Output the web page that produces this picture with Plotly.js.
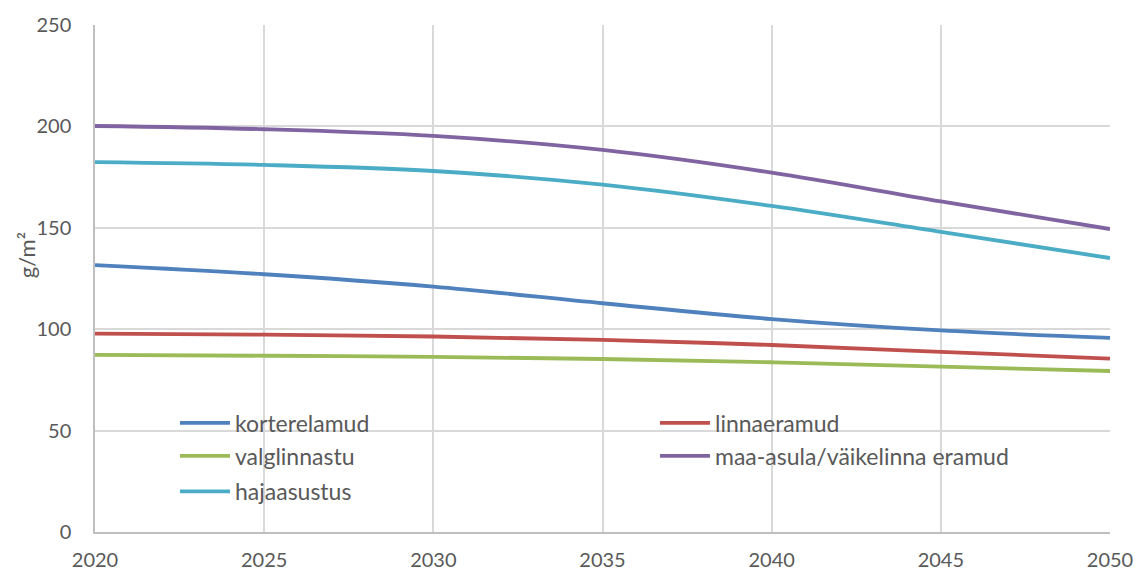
<!DOCTYPE html>
<html>
<head>
<meta charset="utf-8">
<script src="https://cdn.plot.ly/plotly-3.0.1.min.js"></script>
<style>html,body{margin:0;padding:0;background:#fff;}#chart{width:1138px;height:574px;}</style>
</head>
<body>
<div id="chart"></div>
<script>
var years = [2020, 2025, 2030, 2035, 2040, 2045, 2050];
var seriesNames = ["korterelamud", "linnaeramud", "valglinnastu", "maa-asula/väikelinna eramud", "hajaasustus"];
var korterelamud = [131.6, 127.1, 121.0, 112.8, 105.0, 99.4, 95.7];
var linnaeramud = [97.8, 97.3, 96.4, 94.7, 92.2, 88.8, 85.5];
var valglinnastu = [87.3, 86.9, 86.4, 85.3, 83.7, 81.5, 79.4];
var maaAsula = [200.2, 198.6, 195.3, 188.4, 177.2, 163.0, 149.4];
var hajaasustus = [182.4, 181.0, 178.0, 171.3, 160.8, 148.0, 135.1];
var xTicks = [2020, 2025, 2030, 2035, 2040, 2045, 2050];
var yTicks = [0, 50, 100, 150, 200, 250];
var yTitle = "g/m²";

var colors = ["#4F81BD", "#C0504D", "#9BBB59", "#8064A2", "#4BACC6"];
var values = [korterelamud, linnaeramud, valglinnastu, maaAsula, hajaasustus];
var legendIds = ["legend", "legend2", "legend3", "legend4", "legend5"];
var FONT = "Lato, 'Open Sans', sans-serif";

var traces = values.map(function (v, i) {
  return {
    type: "scatter", mode: "lines", x: years, y: v, name: seriesNames[i],
    line: {color: colors[i], width: 3.8, shape: "spline", smoothing: 1},
    legend: legendIds[i], hoverinfo: "x+y+name"
  };
});

var colX = [0.0788, 0.5517];
var rowY = [0.215, 0.150, 0.080];
function mkLegend(col, row) {
  return {
    orientation: "v", x: colX[col], xanchor: "left", y: rowY[row], yanchor: "middle",
    bgcolor: "rgba(0,0,0,0)", borderwidth: 0,
    itemwidth: 50,
    font: {family: FONT, size: 23, color: "#595959"}
  };
}

var layout = {
  width: 1138, height: 574,
  margin: {l: 95, r: 28, t: 25, b: 42},
  paper_bgcolor: "#ffffff", plot_bgcolor: "#ffffff",
  font: {family: FONT, size: 20, color: "#595959"},
  showlegend: true,
  legend: mkLegend(0, 0),
  legend2: mkLegend(1, 0),
  legend3: mkLegend(0, 1),
  legend4: mkLegend(1, 1),
  legend5: mkLegend(0, 2),
  xaxis: {
    range: [2020, 2050], tickvals: xTicks, ticktext: xTicks.map(String),
    showgrid: true, gridcolor: "#d9d9d9", gridwidth: 1.5,
    showline: true, linecolor: "#bfbfbf", linewidth: 1.5,
    ticks: "", zeroline: false, ticklabelstandoff: 9,
    tickfont: {family: FONT, size: 20, color: "#595959"}
  },
  yaxis: {
    range: [0, 250], tickvals: yTicks,
    showgrid: true, gridcolor: "#d9d9d9", gridwidth: 1.5,
    showline: true, linecolor: "#bfbfbf", linewidth: 1.5,
    ticks: "", zeroline: false, ticklabelstandoff: 18,
    tickfont: {family: FONT, size: 20, color: "#595959"}
  },
  annotations: [{
    text: yTitle, xref: "paper", yref: "paper", x: -0.068, y: 0.546,
    xanchor: "center", yanchor: "middle", textangle: -90, showarrow: false,
    font: {family: FONT, size: 22, color: "#595959"}
  }],
  shapes: [{
    type: "rect", xref: "paper", yref: "paper", layer: "between",
    x0: 0.0148, x1: 0.9576, y0: 0.0434, y1: 0.2505,
    fillcolor: "#ffffff", line: {width: 0}
  }]
};

Plotly.newPlot("chart", traces, layout, {displayModeBar: false, responsive: false});
</script>
</body>
</html>
